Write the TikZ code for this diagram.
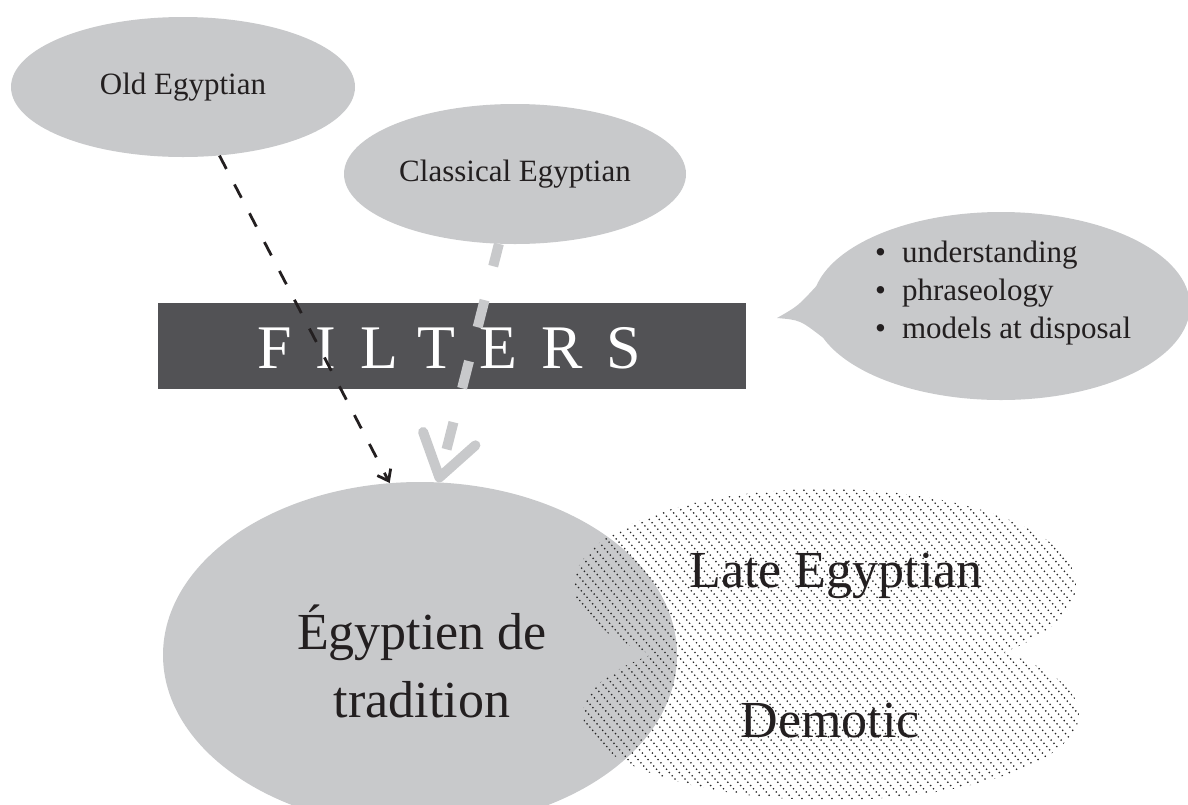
\documentclass[tikz,border=0pt]{standalone}
\usepackage{fontspec}
\setmainfont{Liberation Serif}
\usetikzlibrary{shapes.geometric, arrows.meta, positioning}
\definecolor{blobgray}{RGB}{200,201,203}
\definecolor{bargray}{RGB}{82,82,85}
\definecolor{ink}{RGB}{35,31,32}
\tikzstyle{blob}=[ellipse,fill=blobgray,inner sep=0pt,text=ink]
\tikzstyle{lbl}=[text=ink,inner sep=0pt,font=\fontsize{31}{38}\selectfont]
\tikzstyle{biglbl}=[text=ink,inner sep=0pt,font=\fontsize{52}{68}\selectfont]
\tikzstyle{hatchline}=[black!85,line width=1.3pt,dash pattern=on 1.3pt off 3pt]
\tikzstyle{oldpath}=[ink,line width=2.8pt,dash pattern=on 15pt off 17.5pt,-{Straight Barb[length=10pt,width=15pt]}]
\tikzstyle{classpath}=[blobgray,line width=10pt,dash pattern=on 28pt off 35pt,dash phase=5pt,-{Straight Barb[length=40pt,width=54pt,round]}]
\newcommand\itm{\textbullet\hspace{16pt}}

\begin{document}
\begin{tikzpicture}[x=1pt,y=-1pt]
\useasboundingbox (0,0) rectangle (1188,804);
% source varieties
\node[blob,minimum width=344pt,minimum height=140pt,lbl] (old) at (183,87) {Old Egyptian};
\node[blob,minimum width=342pt,minimum height=140pt,lbl] (classical) at (515,174) {Classical Egyptian};
% speech bubble
\node[blob,minimum width=378pt,minimum height=188pt] (bubble) at (1001,306) {};
\fill[blobgray] (bubble.174) .. controls (798,306) .. (777,318) .. controls (800,320) .. (bubble.190) -- (bubble.center) -- cycle;
\node[lbl,align=left,anchor=base west] (notes) at (875,338) {\itm understanding\\\itm phraseology\\\itm models at disposal};
% target
\node[blob,minimum width=514pt,minimum height=346pt] (trad) at (420,655) {};
\begin{scope}
  \clip (825,585) ellipse [x radius=251pt,y radius=96pt] (831,714) ellipse [x radius=248pt,y radius=86pt];
  \foreach \i in {0,...,84}
    \draw[hatchline] (285+\i*10,480) -- ++(280,322);
\end{scope}
\node[biglbl,align=center,anchor=base] (tradword) at (422,717) {Égyptien de\\tradition};
\node[biglbl,anchor=base] (lateword) at (836,587) {Late Egyptian};
\node[biglbl,anchor=base] (demword) at (830,737) {Demotic};
% filters
\node[fill=bargray,minimum width=588pt,minimum height=86pt,inner sep=0pt] (filters) at (452,346) {};
\node[anchor=base west,text=white,inner sep=0pt,font=\fontsize{62}{70}\selectfont] (filterword) at (257,368) {\addfontfeatures{LetterSpace=39}FILTERS};
% paths through the filters
\draw[oldpath] (old.-62) -- (trad.100);
\draw[classpath] (classical.-103) -- (trad.84);
\end{tikzpicture}
\end{document}
